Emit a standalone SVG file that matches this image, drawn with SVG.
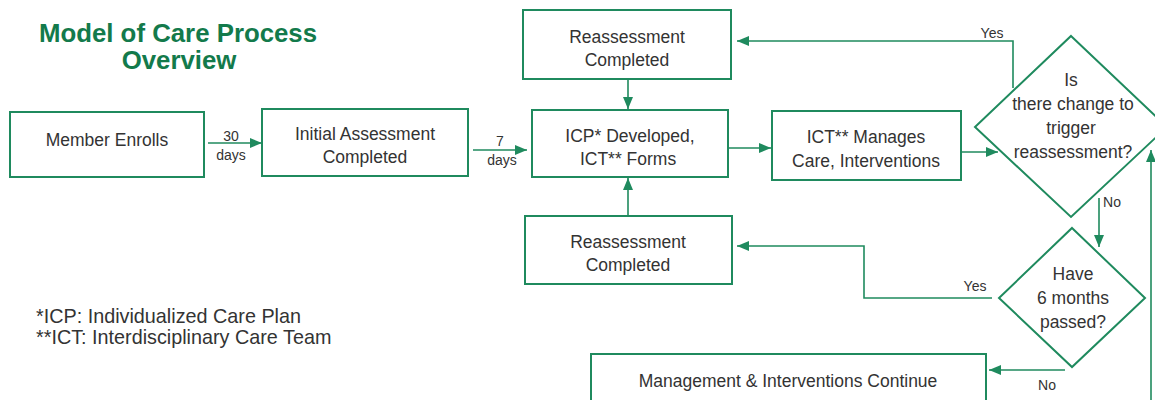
<svg xmlns="http://www.w3.org/2000/svg" width="1155" height="400" viewBox="0 0 1155 400">
<style>
.box{fill:#ffffff;stroke:#1f8a5e;stroke-width:2}
.ln{fill:none;stroke:#1f8a5e;stroke-width:1.6}
.t{font-family:"Liberation Sans",Arial,sans-serif;font-size:17.5px;fill:#333333;text-anchor:middle}
.s{font-family:"Liberation Sans",Arial,sans-serif;font-size:14px;fill:#333333;text-anchor:middle}
.f{font-family:"Liberation Sans",Arial,sans-serif;font-size:19.8px;fill:#333333}
.title{font-family:"Liberation Sans",Arial,sans-serif;font-size:25.8px;font-weight:bold;fill:#137a4b;text-anchor:middle}
</style>
<defs>
<marker id="ah" markerUnits="userSpaceOnUse" markerWidth="12" markerHeight="10" refX="12" refY="5" orient="auto">
<path d="M0,0 L12,5 L0,10 z" fill="#1f8a5e"/>
</marker>
</defs>
<rect width="1155" height="400" fill="#ffffff"/>
<g id="title">
<text class="title" x="178" y="42">Model of Care Process</text>
<text class="title" x="179" y="69">Overview</text>
</g>
<g id="connectors">
<path class="ln" d="M208,143 H262" marker-end="url(#ah)"/>
<path class="ln" d="M473,150 H527" marker-end="url(#ah)"/>
<path class="ln" d="M728,148 H771" marker-end="url(#ah)"/>
<path class="ln" d="M961,152 H998" marker-end="url(#ah)"/>
<path class="ln" d="M628,79 V109" marker-end="url(#ah)"/>
<path class="ln" d="M628,216 V178" marker-end="url(#ah)"/>
<path class="ln" d="M1013,88 V41 H737" marker-end="url(#ah)"/>
<path class="ln" d="M1099,198 V247" marker-end="url(#ah)"/>
<path class="ln" d="M992,298 H864 V246 H737" marker-end="url(#ah)"/>
<path class="ln" d="M1065,370 H989" marker-end="url(#ah)"/>
<path class="ln" d="M1151,400 V150" marker-end="url(#ah)"/>
<text class="s" x="231" y="141">30</text>
<text class="s" x="231" y="160">days</text>
<text class="s" x="500" y="146">7</text>
<text class="s" x="502" y="165">days</text>
<text class="s" x="992" y="38">Yes</text>
<text class="s" x="1112" y="207">No</text>
<text class="s" x="975" y="291">Yes</text>
<text class="s" x="1047" y="390">No</text>
</g>
<g id="member-enrolls">
<rect class="box" x="10" y="112" width="194" height="65"/>
<text class="t" x="107" y="146">Member Enrolls</text>
</g>
<g id="initial-assessment">
<rect class="box" x="262" y="109" width="206" height="67"/>
<text class="t" x="365" y="140">Initial Assessment</text>
<text class="t" x="365" y="163">Completed</text>
</g>
<g id="reassessment-top">
<rect class="box" x="523" y="10" width="208" height="69"/>
<text class="t" x="627" y="43">Reassessment</text>
<text class="t" x="627" y="66">Completed</text>
</g>
<g id="icp-developed">
<rect class="box" x="532" y="110" width="196" height="67"/>
<text class="t" x="630" y="142">ICP* Developed,</text>
<text class="t" x="628" y="165">ICT** Forms</text>
</g>
<g id="reassessment-bottom">
<rect class="box" x="525" y="216" width="207" height="68"/>
<text class="t" x="628" y="248">Reassessment</text>
<text class="t" x="628" y="271">Completed</text>
</g>
<g id="ict-manages">
<rect class="box" x="772" y="111" width="189" height="69"/>
<text class="t" x="866" y="143">ICT** Manages</text>
<text class="t" x="866" y="167">Care, Interventions</text>
</g>
<g id="decision-change">
<path class="box" d="M1071,36 L1167,127 L1071,217 L975,127 Z"/>
<text class="t" x="1071" y="86">Is</text>
<text class="t" x="1073" y="110">there change to</text>
<text class="t" x="1071" y="134">trigger</text>
<text class="t" x="1073" y="158">reassessment?</text>
</g>
<g id="decision-six-months">
<path class="box" d="M1072,228 L1145,298 L1072,367 L999,298 Z"/>
<text class="t" x="1073" y="280">Have</text>
<text class="t" x="1073" y="304">6 months</text>
<text class="t" x="1073" y="328">passed?</text>
</g>
<g id="management-continue">
<rect class="box" x="591" y="354" width="395" height="60"/>
<text class="t" x="788" y="387">Management &amp; Interventions Continue</text>
</g>
<g id="footnotes">
<text class="f" x="36" y="323">*ICP: Individualized Care Plan</text>
<text class="f" x="36" y="344">**ICT: Interdisciplinary Care Team</text>
</g>
</svg>
